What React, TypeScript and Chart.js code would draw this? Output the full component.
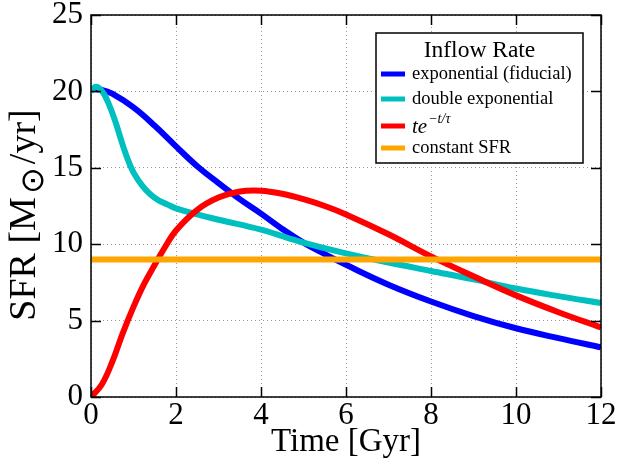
import React, { useEffect, useRef } from 'react';
import { Chart, registerables } from 'chart.js';

Chart.register(...registerables);

const SERIF = "'Liberation Serif', 'Times New Roman', Times, serif";

// ---- data ----
const seriesLabels = ['exponential (fiducial)', 'double exponential', 'te^{-t/τ}', 'constant SFR'];
const seriesColors = ['#0000ff', '#00bfbf', '#ff0000', '#ffa500'];
const legendTitle = 'Inflow Rate';
const xTitle = 'Time [Gyr]';
const xTicks = [0, 2, 4, 6, 8, 10, 12];
const yTicks = [0, 5, 10, 15, 20, 25];

const blueT = [0, 0.25, 0.5, 1, 1.5, 2, 2.5, 3, 3.5, 4, 4.5, 5, 5.5, 6, 7, 8, 9, 10, 11, 12];
const blueV = [20.15, 20.1, 19.85, 18.95, 17.75, 16.4, 15.1, 14.0, 12.95, 12.0, 11.0, 10.1, 9.35, 8.65, 7.35, 6.25, 5.3, 4.5, 3.85, 3.25];

const cyanT = [0, 0.1, 0.2, 0.3, 0.4, 0.5, 0.6, 0.7, 0.8, 0.9, 1, 1.2, 1.4, 1.6, 1.8, 2, 2.5, 3, 4, 5, 6, 7, 8, 9, 10, 11, 12];
const cyanV = [20.0, 20.3, 20.2, 19.85, 19.3, 18.6, 17.8, 16.9, 16.05, 15.3, 14.7, 13.85, 13.25, 12.85, 12.6, 12.35, 11.95, 11.6, 10.95, 10.1, 9.4, 8.8, 8.25, 7.7, 7.1, 6.6, 6.15];

const redT = [0, 0.25, 0.5, 0.75, 1, 1.25, 1.5, 1.75, 2, 2.5, 3, 3.5, 4, 4.5, 5, 5.5, 6, 7, 8, 9, 10, 11, 12];
const redV = [0, 0.8, 2.3, 4.2, 5.9, 7.4, 8.65, 9.85, 10.9, 12.25, 13.05, 13.45, 13.5, 13.3, 12.95, 12.5, 11.95, 10.65, 9.2, 7.9, 6.65, 5.55, 4.55];

const orangeT = [0, 12];
const orangeV = [9, 9];

const seriesT = [blueT, cyanT, redT, orangeT];
const seriesV = [blueV, cyanV, redV, orangeV];

const framePlugin = {
  id: 'frameTicks',
  afterDatasetsDraw(chart: any) {
    const { ctx, chartArea, scales } = chart;
    const { left, right, top, bottom } = chartArea;
    ctx.save();
    ctx.strokeStyle = '#000';
    ctx.lineWidth = 1.5;
    const tl = 10;
    ctx.beginPath();
    xTicks.forEach((v) => {
      const px = Math.round(scales.x.getPixelForValue(v)) + 0.5;
      ctx.moveTo(px, bottom);
      ctx.lineTo(px, bottom - tl);
      ctx.moveTo(px, top);
      ctx.lineTo(px, top + tl);
    });
    yTicks.forEach((v) => {
      const py = Math.round(scales.y.getPixelForValue(v)) + 0.5;
      ctx.moveTo(left, py);
      ctx.lineTo(left + tl, py);
      ctx.moveTo(right, py);
      ctx.lineTo(right - tl, py);
    });
    ctx.stroke();
    ctx.strokeRect(left, top, right - left, bottom - top);
    ctx.restore();
  },
};

const yTitlePlugin = {
  id: 'yTitle',
  afterDraw(chart: any) {
    const { ctx, chartArea } = chart;
    const parts = [
      { t: 'SFR [M', size: 38, dy: 0, pad: 0 },
      { t: '⊙', size: 32, dy: 10, pad: 3 },
      { t: '/yr]', size: 38, dy: 0, pad: 3 },
    ];
    ctx.save();
    let total = 0;
    const widths = parts.map((p) => {
      ctx.font = `${p.size}px ${SERIF}`;
      const w = ctx.measureText(p.t).width + p.pad;
      total += w;
      return w;
    });
    const cy = (chartArea.top + chartArea.bottom) / 2 + 9;
    ctx.translate(25, cy);
    ctx.rotate(-Math.PI / 2);
    ctx.fillStyle = '#000';
    ctx.textBaseline = 'middle';
    ctx.textAlign = 'left';
    let x = -total / 2;
    parts.forEach((p, i) => {
      ctx.font = `${p.size}px ${SERIF}`;
      ctx.fillText(p.t, x + p.pad, p.dy);
      x += widths[i];
    });
    ctx.restore();
  },
};

const legendPlugin = {
  id: 'boxLegend',
  afterDraw(chart: any) {
    const { ctx, chartArea } = chart;
    const w = 207;
    const h = 130;
    const x0 = chartArea.right - 18 - w;
    const y0 = chartArea.top + 18;
    ctx.save();
    ctx.fillStyle = '#fff';
    ctx.fillRect(x0, y0, w, h);
    ctx.strokeStyle = '#000';
    ctx.lineWidth = 1.5;
    ctx.strokeRect(x0, y0, w, h);
    ctx.fillStyle = '#000';
    ctx.textBaseline = 'middle';
    ctx.textAlign = 'center';
    ctx.font = `23.5px ${SERIF}`;
    ctx.fillText(legendTitle, x0 + w / 2, y0 + 18);
    const rows = [41, 66, 93, 115];
    ctx.textAlign = 'left';
    seriesLabels.forEach((label, i) => {
      const y = y0 + rows[i];
      ctx.strokeStyle = seriesColors[i];
      ctx.lineWidth = 5;
      ctx.lineCap = 'butt';
      ctx.beginPath();
      ctx.moveTo(x0 + 5, y);
      ctx.lineTo(x0 + 29, y);
      ctx.stroke();
      ctx.fillStyle = '#000';
      const tx = x0 + 36;
      if (label.startsWith('te^')) {
        ctx.font = `italic 21px ${SERIF}`;
        ctx.fillText('te', tx, y + 1);
        const w1 = ctx.measureText('te').width;
        ctx.font = `italic 14px ${SERIF}`;
        ctx.fillText('−t/τ', tx + w1 + 1, y - 7);
      } else {
        ctx.font = `18.5px ${SERIF}`;
        ctx.fillText(label, tx, y);
      }
    });
    ctx.restore();
  },
};

export default function App() {
  const ref = useRef<HTMLCanvasElement>(null);
  useEffect(() => {
    if (!ref.current) return;
    const datasets = seriesLabels.map((label, i) => ({
      label,
      data: seriesT[i].map((t, j) => ({ x: t, y: seriesV[i][j] })),
      borderColor: seriesColors[i],
      backgroundColor: seriesColors[i],
      borderWidth: 6,
      pointRadius: 0,
      tension: 0.4,
      fill: false,
      clip: 0,
      order: 4 - i,
    }));
    const chart = new Chart(ref.current, {
      type: 'line',
      data: { datasets },
      options: {
        animation: false,
        responsive: false,
        layout: { padding: { top: 15, right: 20, left: 0, bottom: 0 } },
        plugins: { legend: { display: false }, tooltip: { enabled: false } },
        scales: {
          x: {
            type: 'linear',
            min: 0,
            max: 12,
            afterBuildTicks: (s: any) => {
              s.ticks = xTicks.map((v) => ({ value: v }));
            },
            afterFit: (s: any) => {
              s.height = 68;
              s.paddingLeft = 0;
              s.paddingRight = 0;
            },
            ticks: {
              font: { family: SERIF, size: 31 },
              color: '#000',
              padding: 0,
              maxRotation: 0,
            },
            grid: { color: '#999', lineWidth: 1, drawTicks: false },
            border: { display: false, dash: [1, 3] },
            title: {
              display: true,
              text: xTitle,
              color: '#000',
              font: { family: SERIF, size: 33 },
              padding: { top: 0, bottom: 3 },
            },
          },
          y: {
            type: 'linear',
            min: 0,
            max: 25,
            afterBuildTicks: (s: any) => {
              s.ticks = yTicks.map((v) => ({ value: v }));
            },
            afterFit: (s: any) => {
              s.width = 91;
              s.paddingTop = 0;
              s.paddingBottom = 0;
            },
            ticks: {
              font: { family: SERIF, size: 31 },
              color: '#000',
              padding: 8,
            },
            grid: { color: '#999', lineWidth: 1, drawTicks: false },
            border: { display: false, dash: [1, 3] },
          },
        },
      },
      plugins: [framePlugin, yTitlePlugin, legendPlugin],
    });
    return () => chart.destroy();
  }, []);
  return (
    <div style={{ position: 'fixed', left: 0, top: 0, width: 621, height: 465, background: '#fff' }}>
      <canvas ref={ref} width={621} height={465} />
    </div>
  );
}
